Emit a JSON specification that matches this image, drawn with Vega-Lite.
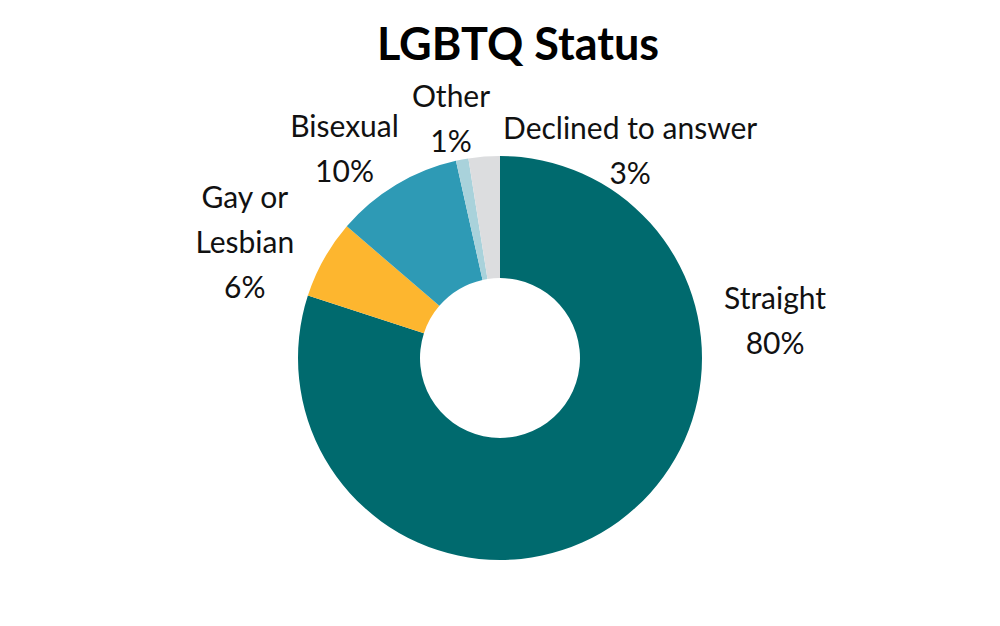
{
  "$schema": "https://vega.github.io/schema/vega-lite/v6.json",
  "width": 1000,
  "height": 540,
  "autosize": "none",
  "padding": {"top": 88, "left": 0, "right": 0, "bottom": 0},
  "background": "white",
  "title": {
    "text": "LGBTQ Status",
    "font": "Lato",
    "fontSize": 45,
    "fontWeight": "bold",
    "color": "#000000",
    "anchor": "middle",
    "frame": "group",
    "baseline": "alphabetic",
    "offset": 25,
    "dx": 18,
    "dy": 47
  },
  "data": {
    "values": [
      {"category": "Straight", "value": 80, "label": "Straight\n80%"},
      {"category": "Gay or Lesbian", "value": 6.3, "label": "Gay or\nLesbian\n6%"},
      {"category": "Bisexual", "value": 10.2, "label": "Bisexual\n10%"},
      {"category": "Other", "value": 1.0, "label": "Other\n1%"},
      {"category": "Declined to answer", "value": 2.5, "label": "Declined to answer\n3%"}
    ]
  },
  "transform": [
    {"calculate": "indexof(['Straight', 'Gay or Lesbian', 'Bisexual', 'Other', 'Declined to answer'], datum.category)", "as": "rank"},
    {"stack": "value", "groupby": [], "sort": [{"field": "rank"}], "as": ["start", "end"]},
    {"calculate": "(datum.start + datum.end) / 2", "as": "mid"}
  ],
  "layer": [
    {
      "mark": {"type": "arc", "radius": 202, "innerRadius": 80},
      "encoding": {
        "theta": {"field": "start", "type": "quantitative", "scale": {"domain": [0, 100]}},
        "theta2": {"field": "end"},
        "color": {
          "field": "category",
          "type": "nominal",
          "legend": null,
          "scale": {
            "domain": ["Straight", "Gay or Lesbian", "Bisexual", "Other", "Declined to answer"],
            "range": ["#006A6E", "#FDB62F", "#2E9AB5", "#A9D2DB", "#DCDDDF"]
          }
        }
      }
    },
    {
      "transform": [{"filter": "datum.category == 'Straight'"}],
      "mark": {"type": "text", "radius": 240, "font": "Lato", "fontSize": 30, "lineHeight": 45, "lineBreak": "\n", "align": "center", "baseline": "middle", "color": "#111111", "dx": 134, "dy": -252},
      "encoding": {
        "theta": {"field": "mid", "type": "quantitative", "scale": {"domain": [0, 100]}},
        "text": {"field": "label"}
      }
    },
    {
      "transform": [{"filter": "datum.category == 'Gay or Lesbian'"}],
      "mark": {"type": "text", "radius": 240, "font": "Lato", "fontSize": 30, "lineHeight": 45, "lineBreak": "\n", "align": "center", "baseline": "middle", "color": "#111111", "dx": -46, "dy": -41},
      "encoding": {
        "theta": {"field": "mid", "type": "quantitative", "scale": {"domain": [0, 100]}},
        "text": {"field": "label"}
      }
    },
    {
      "transform": [{"filter": "datum.category == 'Bisexual'"}],
      "mark": {"type": "text", "radius": 240, "font": "Lato", "fontSize": 30, "lineHeight": 45, "lineBreak": "\n", "align": "center", "baseline": "middle", "color": "#111111", "dx": -32, "dy": -24},
      "encoding": {
        "theta": {"field": "mid", "type": "quantitative", "scale": {"domain": [0, 100]}},
        "text": {"field": "label"}
      }
    },
    {
      "transform": [{"filter": "datum.category == 'Other'"}],
      "mark": {"type": "text", "radius": 240, "font": "Lato", "fontSize": 30, "lineHeight": 45, "lineBreak": "\n", "align": "center", "baseline": "middle", "color": "#111111", "dx": -4, "dy": -24},
      "encoding": {
        "theta": {"field": "mid", "type": "quantitative", "scale": {"domain": [0, 100]}},
        "text": {"field": "label"}
      }
    },
    {
      "transform": [{"filter": "datum.category == 'Declined to answer'"}],
      "mark": {"type": "text", "radius": 240, "font": "Lato", "fontSize": 30, "lineHeight": 45, "lineBreak": "\n", "align": "center", "baseline": "middle", "color": "#111111", "dx": 149, "dy": 11},
      "encoding": {
        "theta": {"field": "mid", "type": "quantitative", "scale": {"domain": [0, 100]}},
        "text": {"field": "label"}
      }
    }
  ],
  "config": {
    "view": {"stroke": null}
  }
}
